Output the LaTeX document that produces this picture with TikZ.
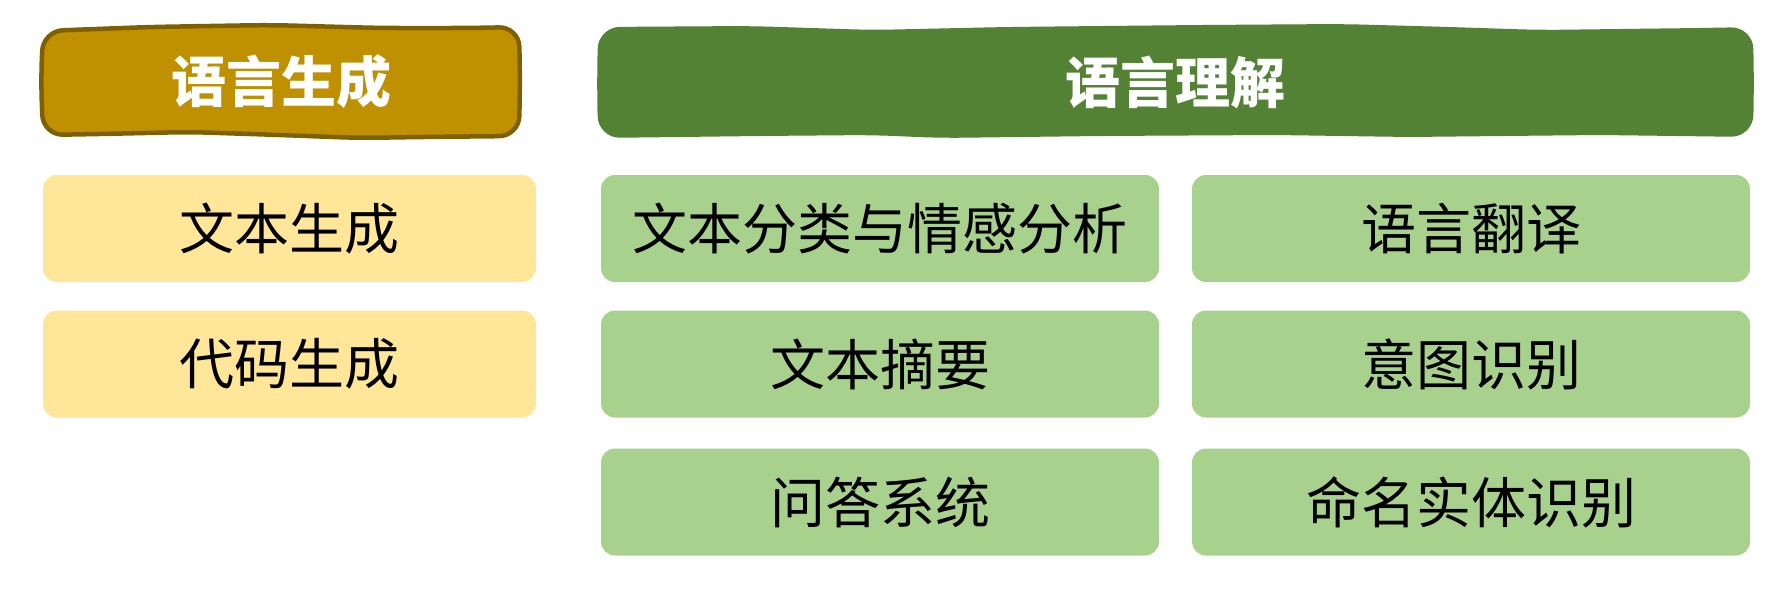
\documentclass[tikz,border=0pt]{standalone}
\usepackage{fontspec}
\setmainfont{Noto Sans CJK SC}
\definecolor{goldfill}{HTML}{BF9000}
\definecolor{goldline}{HTML}{7F6000}
\definecolor{darkgreen}{HTML}{548235}
\definecolor{lightyellow}{HTML}{FFE699}
\definecolor{lightgreen}{HTML}{A9D18E}
\begin{document}
\begin{tikzpicture}[x=1pt,y=-1pt,
  itembox/.style={rounded corners=14pt, inner sep=0pt, minimum width=558pt, minimum height=107pt,
    font=\fontsize{55}{60}\selectfont, text=black},
  genbox/.style={itembox, fill=lightyellow, minimum width=493pt},
  undbox/.style={itembox, fill=lightgreen},
  headtext/.style={inner sep=0pt, font=\fontsize{55}{60}\selectfont\bfseries, text=white}]
\useasboundingbox (0,0) rectangle (1791,592);
\fill[white] (0,0) rectangle (1791,592);
% wobbly header shapes
\draw[line width=4.5pt, draw=goldline, fill=goldfill, rounded corners=20pt]
  (43,31) -- (150,27) -- (270,25) -- (380,28) -- (470,28) -- (519,27) -- (520,80)
  -- (519,136) -- (420,137) -- (360,138) -- (280,135) -- (190,132) -- (100,134) -- (43,135)
  -- (41,80) -- cycle;
\fill[darkgreen, rounded corners=22pt]
  (598,27) -- (750,26) -- (872,30) -- (1006,27) -- (1200,25) -- (1342,24) -- (1450,27)
  -- (1540,30) -- (1700,28) -- (1753,27) -- (1754,85) -- (1753,137) -- (1600,135) -- (1408,137)
  -- (1276,135) -- (1100,136) -- (940,138) -- (872,135) -- (760,136) -- (598,138) -- (597,85) -- cycle;
\node[headtext] (hgen) at (281,82) {语言生成};
\node[headtext] (hund) at (1175.5,82) {语言理解};
% generation items
\node[genbox] (textgen) at (289.5,228.5) {文本生成};
\node[genbox] (codegen) at (289.5,364) {代码生成};
% understanding items
\node[undbox] (cls) at (880,228.5) {文本分类与情感分析};
\node[undbox] (trans) at (1471,228.5) {语言翻译};
\node[undbox] (summ) at (880,364) {文本摘要};
\node[undbox] (intent) at (1471,364) {意图识别};
\node[undbox] (qa) at (880,502) {问答系统};
\node[undbox] (ner) at (1471,502) {命名实体识别};
\end{tikzpicture}
\end{document}
